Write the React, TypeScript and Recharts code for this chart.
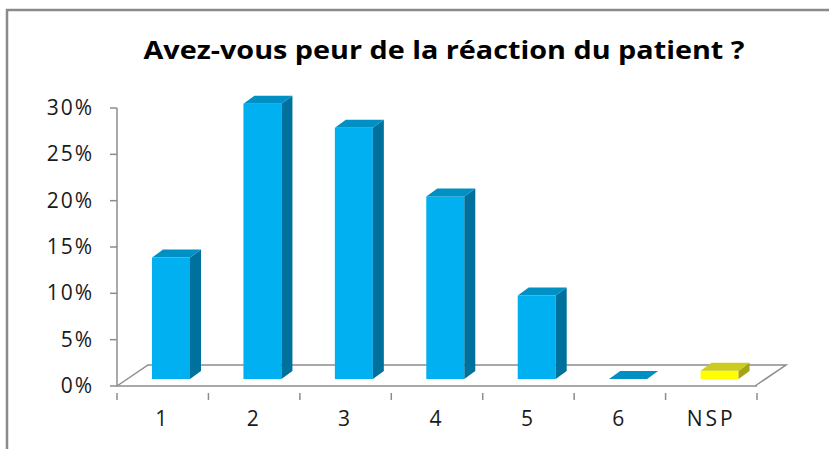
import { BarChart, Bar, XAxis, YAxis, Cell, Customized } from 'recharts';

const categories = ['1', '2', '3', '4', '5', '6', 'NSP'];
const shares = [0.131, 0.297, 0.271, 0.197, 0.09, 0, 0.009];
const yTicks = [0, 0.05, 0.1, 0.15, 0.2, 0.25, 0.3];
const title = 'Avez-vous peur de la réaction du patient ?';

const data = categories.map((name, i) => ({ name, value: shares[i] }));

const W = 829;
const H = 449;
const PLOT_LEFT = 117;
const PLOT_RIGHT = 757;
const PLOT_TOP = 108;
const PLOT_BOTTOM = 386;
const FLOOR_DX = 31;
const FLOOR_DY = -21;
const BAR_SHIFT_X = 8;
const BAR_SHIFT_Y = -7;
const BAR_DX = 11;
const BAR_DY = -8;
const AXIS = '#8c8c8c';
const FONT = '"Open Sans", sans-serif';

const shades: Record<string, { top: string; side: string }> = {
  '#00b0f0': { top: '#0090c4', side: '#00719c' },
  '#ffff00': { top: '#cccc20', side: '#a4a414' },
};

function Box3D(props: any) {
  const { x, y, width, height, fill } = props;
  const shade = shades[fill] || shades['#00b0f0'];
  const fx = x + BAR_SHIFT_X;
  const fy = y + BAR_SHIFT_Y;
  const h = Math.max(height, 0);
  const top = `M${fx},${fy} L${fx + BAR_DX},${fy + BAR_DY} L${fx + width + BAR_DX},${fy + BAR_DY} L${fx + width},${fy} Z`;
  if (h < 0.5) {
    return <path d={top} fill={shade.top} />;
  }
  const side = `M${fx + width},${fy} L${fx + width + BAR_DX},${fy + BAR_DY} L${fx + width + BAR_DX},${fy + h + BAR_DY} L${fx + width},${fy + h} Z`;
  return (
    <g>
      <rect x={fx} y={fy} width={width} height={h} fill={fill} />
      <path d={side} fill={shade.side} />
      <path d={top} fill={shade.top} />
    </g>
  );
}

function Floor() {
  const l = PLOT_LEFT;
  const r = PLOT_RIGHT - 2;
  const b = PLOT_BOTTOM;
  return (
    <g fill="none" stroke={AXIS} strokeWidth={1.5}>
      <path d={`M${l},${b} L${l + FLOOR_DX},${b + FLOOR_DY} L${r + FLOOR_DX},${b + FLOOR_DY} L${r},${b}`} />
    </g>
  );
}

function Decor() {
  return (
    <g>
      <path d={`M7,${H + 5} L7,10 L${W + 5},10`} fill="none" stroke="#8a8a8a" strokeWidth={2.5} />
      <text
        x={444}
        y={59}
        textAnchor="middle"
        fontFamily={FONT}
        fontWeight={700}
        fontSize={25}
        textLength={601}
        lengthAdjust="spacingAndGlyphs"
        fill="#000"
      >
        {title}
      </text>
    </g>
  );
}

function CategoryTick(props: any) {
  const { x, y, payload, index } = props;
  const half = (PLOT_RIGHT - PLOT_LEFT) / categories.length / 2;
  return (
    <g>
      <line x1={x - half} y1={y - 1} x2={x - half} y2={y + 6} stroke={AXIS} strokeWidth={1.5} />
      {index === categories.length - 1 && (
        <line x1={x + half} y1={y - 1} x2={x + half} y2={y + 6} stroke={AXIS} strokeWidth={1.5} />
      )}
      <text
        x={x}
        y={y + 32}
        textAnchor="middle"
        fontFamily={FONT}
        fontSize={21}
        letterSpacing={3}
        fill="#1a1a1a"
      >
        {payload.value}
      </text>
    </g>
  );
}

function ValueTick(props: any) {
  const { x, y, payload } = props;
  return (
    <text
      x={x}
      y={y + 7}
      textAnchor="end"
      fontFamily={FONT}
      fontSize={21}
      letterSpacing={2}
      fill="#1a1a1a"
    >
      {`${Math.round(payload.value * 100)}%`}
    </text>
  );
}

export default function App() {
  return (
    <div style={{ position: 'absolute', left: 0, top: 0, width: W, height: H, background: '#fff' }}>
      <BarChart
        width={W}
        height={H}
        data={data}
        margin={{ top: PLOT_TOP, right: W - PLOT_RIGHT, bottom: H - PLOT_BOTTOM - 40, left: 0 }}
      >
        <Customized component={Decor} />
        <Customized component={Floor} />
        <XAxis
          dataKey="name"
          axisLine={{ stroke: AXIS, strokeWidth: 1.5 }}
          tickLine={false}
          tick={<CategoryTick />}
          height={40}
          interval={0}
        />
        <YAxis
          width={PLOT_LEFT}
          domain={[0, 0.3]}
          ticks={yTicks}
          axisLine={{ stroke: AXIS, strokeWidth: 1.5 }}
          tickLine={{ stroke: AXIS, strokeWidth: 1.5 }}
          tickSize={7}
          tickMargin={16}
          tick={<ValueTick />}
        />
        <Bar dataKey="value" barSize={38} shape={<Box3D />} isAnimationActive={false}>
          {data.map((d) => (
            <Cell key={d.name} fill={d.name === 'NSP' ? '#ffff00' : '#00b0f0'} />
          ))}
        </Bar>
      </BarChart>
    </div>
  );
}
